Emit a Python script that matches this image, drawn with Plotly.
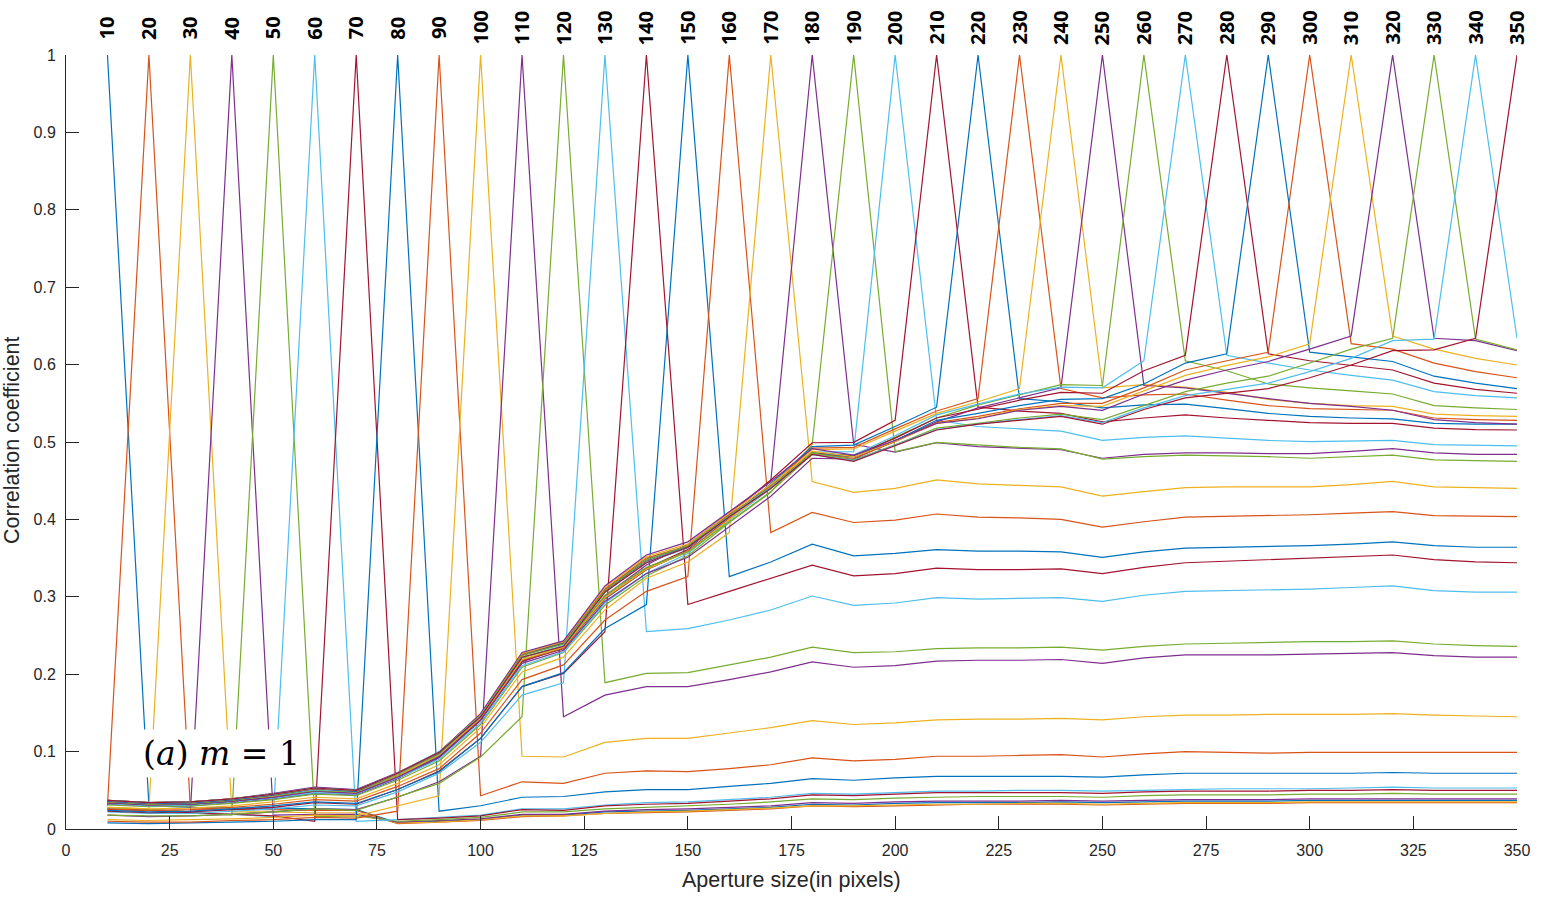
import plotly.graph_objects as go

# ---------------- data ----------------
apertures = [10, 20, 30, 40, 50, 60, 70, 80, 90, 100, 110, 120, 130, 140, 150, 160, 170, 180,
             190, 200, 210, 220, 230, 240, 250, 260, 270, 280, 290, 300, 310, 320, 330, 340, 350]
peak_value = 1.0

x_ticks = [0, 25, 50, 75, 100, 125, 150, 175, 200, 225, 250, 275, 300, 325, 350]
y_ticks = [0, 0.1, 0.2, 0.3, 0.4, 0.5, 0.6, 0.7, 0.8, 0.9, 1.0]
y_tick_text = ["0", "0.1", "0.2", "0.3", "0.4", "0.5", "0.6", "0.7", "0.8", "0.9", "1"]

# correlation of each aperture with every LARGER aperture;
# the chart's matrix is symmetric, so values left of each peak mirror these.
tail_10 = [0.030, 0.028, 0.027, 0.027, 0.026, 0.025,
           0.008, 0.010, 0.012, 0.018, 0.018, 0.022, 0.023, 0.024, 0.026, 0.028, 0.032, 0.031, 0.033, 0.034,
           0.034, 0.034, 0.035, 0.034, 0.035, 0.036, 0.036, 0.036, 0.037, 0.037, 0.037, 0.037, 0.037, 0.037]
tail_20 = [0.026, 0.025, 0.025, 0.024, 0.024,
           0.007, 0.009, 0.011, 0.016, 0.017, 0.020, 0.021, 0.022, 0.024, 0.026, 0.030, 0.029, 0.030, 0.031,
           0.032, 0.032, 0.032, 0.031, 0.032, 0.033, 0.033, 0.033, 0.034, 0.034, 0.034, 0.034, 0.034, 0.034]
tail_30 = [0.022, 0.022, 0.021, 0.021,
           0.008, 0.009, 0.012, 0.017, 0.017, 0.020, 0.022, 0.023, 0.025, 0.027, 0.030, 0.030, 0.031, 0.032,
           0.032, 0.033, 0.033, 0.032, 0.033, 0.034, 0.034, 0.034, 0.035, 0.035, 0.035, 0.035, 0.035, 0.035]
tail_40 = [0.018, 0.019, 0.019,
           0.009, 0.011, 0.013, 0.019, 0.019, 0.023, 0.025, 0.026, 0.028, 0.030, 0.034, 0.033, 0.035, 0.036,
           0.036, 0.036, 0.037, 0.036, 0.037, 0.038, 0.038, 0.038, 0.039, 0.039, 0.039, 0.039, 0.039, 0.039]
tail_50 = [0.016, 0.017,
           0.010, 0.012, 0.015, 0.022, 0.022, 0.026, 0.028, 0.030, 0.032, 0.035, 0.039, 0.038, 0.040, 0.041,
           0.042, 0.042, 0.042, 0.041, 0.043, 0.044, 0.044, 0.044, 0.045, 0.045, 0.046, 0.045, 0.045, 0.045]
tail_60 = [0.010,
           0.012, 0.015, 0.018, 0.026, 0.026, 0.031, 0.034, 0.035, 0.038, 0.041, 0.046, 0.045, 0.047, 0.049,
           0.049, 0.050, 0.050, 0.049, 0.050, 0.051, 0.052, 0.052, 0.052, 0.053, 0.054, 0.053, 0.053, 0.053]
tail_70 = [0.012, 0.014, 0.017, 0.025, 0.024, 0.030, 0.032, 0.033, 0.036, 0.039, 0.044, 0.043, 0.045, 0.047,
           0.047, 0.047, 0.047, 0.046, 0.048, 0.049, 0.049, 0.049, 0.050, 0.050, 0.051, 0.050, 0.050, 0.050]
tail_80 = [0.023, 0.030, 0.041, 0.042, 0.048, 0.051, 0.051, 0.055, 0.059, 0.065,
           0.063, 0.066, 0.068, 0.068, 0.068, 0.068, 0.067, 0.070, 0.072, 0.072,
           0.072, 0.072, 0.072, 0.073, 0.072, 0.072, 0.072]
tail_90 = [0.043, 0.061, 0.059, 0.072, 0.075, 0.074, 0.078, 0.083, 0.092,
           0.088, 0.090, 0.094, 0.094, 0.095, 0.096, 0.093, 0.097, 0.100, 0.099,
           0.098, 0.099, 0.099, 0.099, 0.099, 0.099, 0.099]
tail_100 = [0.094, 0.093, 0.112, 0.117, 0.117, 0.124, 0.131, 0.140,
            0.135, 0.137, 0.141, 0.142, 0.142, 0.143, 0.141, 0.145, 0.147, 0.147,
            0.148, 0.148, 0.148, 0.149, 0.147, 0.146, 0.145]
tail_110 = [0.145, 0.173, 0.184, 0.184, 0.193, 0.203, 0.216,
            0.209, 0.211, 0.217, 0.218, 0.218, 0.219, 0.214, 0.221, 0.225, 0.225,
            0.225, 0.226, 0.227, 0.228, 0.224, 0.222, 0.222]
tail_120 = [0.189, 0.201, 0.202, 0.212, 0.222, 0.235,
            0.228, 0.229, 0.233, 0.234, 0.234, 0.235, 0.231, 0.236, 0.239, 0.240,
            0.241, 0.242, 0.242, 0.243, 0.239, 0.237, 0.236]
tail_130 = [0.255, 0.259, 0.270, 0.283, 0.301,
            0.289, 0.292, 0.299, 0.297, 0.298, 0.299, 0.294, 0.302, 0.307, 0.308,
            0.309, 0.310, 0.312, 0.314, 0.308, 0.306, 0.306]
tail_140 = [0.290, 0.307, 0.324, 0.341,
            0.327, 0.330, 0.337, 0.335, 0.335, 0.336, 0.330, 0.338, 0.344, 0.346,
            0.348, 0.350, 0.352, 0.354, 0.348, 0.345, 0.344]
tail_150 = [0.326, 0.345, 0.368,
            0.353, 0.356, 0.361, 0.359, 0.359, 0.358, 0.351, 0.358, 0.363, 0.364,
            0.365, 0.366, 0.368, 0.371, 0.366, 0.364, 0.364]
tail_160 = [0.383, 0.409,
            0.396, 0.399, 0.407, 0.403, 0.402, 0.400, 0.390, 0.397, 0.403, 0.404,
            0.405, 0.406, 0.408, 0.410, 0.405, 0.404, 0.4035]
tail_170 = [0.449,
            0.435, 0.440, 0.451, 0.446, 0.444, 0.442, 0.430, 0.436, 0.441, 0.442,
            0.442, 0.442, 0.445, 0.449, 0.442, 0.441, 0.440]
tail_180 = [0.497, 0.487, 0.499, 0.494, 0.492, 0.490, 0.479, 0.484, 0.486, 0.486,
            0.485, 0.485, 0.488, 0.4915, 0.486, 0.484, 0.484]
tail_190 = [0.4875, 0.4996, 0.496, 0.493, 0.491, 0.478, 0.481, 0.483, 0.482,
            0.481, 0.479, 0.481, 0.483, 0.477, 0.476, 0.475]
tail_200 = [0.528, 0.520, 0.517, 0.514, 0.502, 0.506, 0.508, 0.505,
            0.502, 0.5005, 0.501, 0.502, 0.4965, 0.4955, 0.495]
tail_210 = [0.545, 0.540, 0.537, 0.526, 0.531, 0.535, 0.531,
            0.528, 0.525, 0.524, 0.524, 0.518, 0.516, 0.5155]
tail_220 = [0.556, 0.552, 0.544, 0.548, 0.549, 0.543,
            0.537, 0.533, 0.531, 0.530, 0.524, 0.523, 0.523]
tail_230 = [0.569, 0.557, 0.561, 0.562, 0.554,
            0.547, 0.543, 0.542, 0.541, 0.531, 0.529, 0.528]
tail_240 = [0.570, 0.574, 0.571, 0.564,
            0.555, 0.550, 0.547, 0.546, 0.536, 0.534, 0.533]
tail_250 = [0.573, 0.570, 0.563,
            0.556, 0.550, 0.546, 0.541, 0.529, 0.525, 0.523]
tail_260 = [0.605, 0.592,
            0.575, 0.570, 0.566, 0.562, 0.547, 0.544, 0.542]
tail_270 = [0.612, 0.602, 0.593, 0.586, 0.580, 0.565, 0.560, 0.557]
tail_280 = [0.614, 0.605, 0.599, 0.593, 0.576, 0.568, 0.563]
tail_290 = [0.616, 0.610, 0.604, 0.585, 0.576, 0.569]
tail_300 = [0.627, 0.620, 0.602, 0.591, 0.583]
tail_310 = [0.637, 0.620, 0.608, 0.5995]
tail_320 = [0.634, 0.631, 0.618]
tail_330 = [0.633, 0.619]
tail_340 = [0.634]
tail_350 = []

tails = [tail_10, tail_20, tail_30, tail_40, tail_50, tail_60, tail_70, tail_80, tail_90, tail_100,
         tail_110, tail_120, tail_130, tail_140, tail_150, tail_160, tail_170, tail_180, tail_190,
         tail_200, tail_210, tail_220, tail_230, tail_240, tail_250, tail_260, tail_270, tail_280,
         tail_290, tail_300, tail_310, tail_320, tail_330, tail_340, tail_350]

# MATLAB default colour order
colors = ["#0072BD", "#D95319", "#EDB120", "#7E2F8E", "#77AC30", "#4DBEEE", "#A2142F"]

# ---------------- build symmetric matrix ----------------
n = len(apertures)
corr = [[None] * n for _ in range(n)]
for i in range(n):
    corr[i][i] = peak_value
    for off, v in enumerate(tails[i]):
        j = i + 1 + off
        corr[i][j] = v
        corr[j][i] = v

axis_col = "#262626"
tick_font = dict(family="Liberation Sans, Arial, sans-serif", size=16, color=axis_col)

fig = go.Figure()
for i, k in enumerate(apertures):
    fig.add_trace(go.Scatter(
        x=apertures, y=corr[i], mode="lines", name=str(k),
        line=dict(color=colors[i % len(colors)], width=1.2),
        showlegend=False, hoverinfo="x+y+name"))

annotations = []
for k in apertures:
    annotations.append(dict(
        x=k, xref="x", y=1.0349, yref="paper", text="<b>%d</b>" % k,
        textangle=-90, showarrow=False, xanchor="center", yanchor="middle",
        font=dict(family="Open Sans, DejaVu Sans, sans-serif", size=20, color="black")))

annotations.append(dict(
    x=37.5, xref="x", y=0.0975, yref="y",
    text="(<i>a</i>) <i>m</i> = 1", showarrow=False,
    xanchor="center", yanchor="middle", bgcolor="white", borderpad=0,
    width=167, height=47,
    font=dict(family="DejaVu Serif, serif", size=33, color="black")))

annotations.append(dict(
    x=0.5, xref="paper", y=-0.066, yref="paper", text="Aperture size(in pixels)",
    showarrow=False, xanchor="center", yanchor="middle",
    font=dict(family="Liberation Sans, Arial, sans-serif", size=21.5, color=axis_col)))
annotations.append(dict(
    x=-0.0372, xref="paper", y=0.5026, yref="paper", text="Correlation coefficient",
    textangle=-90, showarrow=False, xanchor="center", yanchor="middle",
    font=dict(family="Liberation Sans, Arial, sans-serif", size=21.5, color=axis_col)))

fig.update_layout(
    width=1551, height=897,
    margin=dict(l=66, r=34, t=55, b=68),
    paper_bgcolor="white", plot_bgcolor="white",
    annotations=annotations,
    xaxis=dict(range=[0, 350], tickvals=x_ticks, showline=True, linecolor=axis_col, linewidth=1,
               ticks="inside", ticklen=13, tickcolor=axis_col, tickwidth=1,
               showgrid=False, zeroline=False, tickfont=tick_font, ticklabelstandoff=7),
    yaxis=dict(range=[0, 1], tickvals=y_ticks, ticktext=y_tick_text, showline=True,
               linecolor=axis_col, linewidth=1, ticks="inside", ticklen=13, tickcolor=axis_col,
               tickwidth=1, showgrid=False, zeroline=False, tickfont=tick_font, ticklabelstandoff=6),
)

fig.write_html("out.html")
